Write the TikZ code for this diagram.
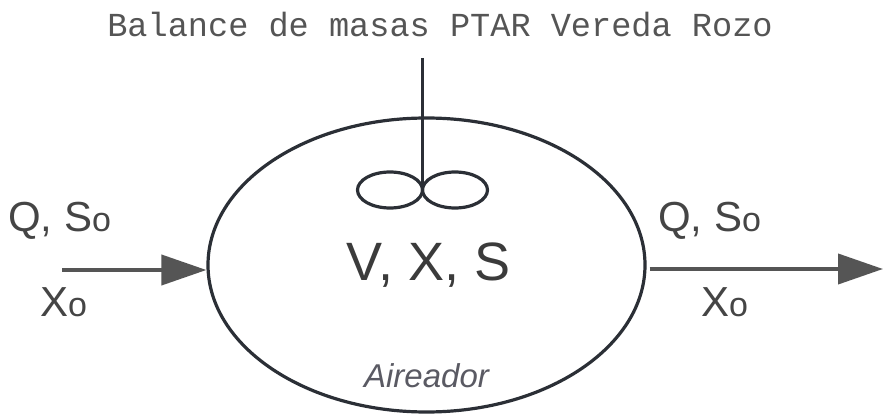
\documentclass[tikz,border=0pt]{standalone}
\usepackage{fontspec}
\setmainfont{Liberation Sans}
\newfontfamily\monof{Liberation Mono}
\usetikzlibrary{arrows.meta,shapes.geometric}
\definecolor{ink}{HTML}{2B2F36}
\definecolor{txt}{HTML}{454545}
\definecolor{arr}{HTML}{555555}
\definecolor{lbl}{HTML}{5A5A63}
\newcommand{\subo}{{\fontsize{34}{34}\selectfont o}}
\begin{document}
\begin{tikzpicture}[x=1pt,y=1pt,
  flow/.style={draw=arr, line width=4pt, -{Triangle[length=45pt,width=30pt]}},
  bigtxt/.style={inner sep=0pt, text=txt, font=\fontsize{42}{42}\selectfont, anchor=base west},
  blade/.style={draw=ink, line width=3.2pt}]
\useasboundingbox (0,0) rectangle (883,418);
\node[ellipse, draw=ink, line width=3.2pt, minimum width=437pt, minimum height=294pt, inner sep=0pt] (tank) at (426.5,153) {};
\node[inner sep=0pt, anchor=base, text=txt!85!black, font=\fontsize{54}{54}\selectfont] (vxs) at (428.5,138) {V, X, S};
\node[inner sep=0pt, anchor=base, text=lbl, font=\fontsize{33}{33}\selectfont\itshape] (air) at (426.5,31) {Aireador};
\node[inner sep=0pt, anchor=base, text=arr, font=\monof\fontsize{33.6}{33.6}\selectfont] (title) at (440,381) {Balance de masas PTAR Vereda Rozo};
% mixer
\coordinate (shafttop) at (422.5,360);
\coordinate (hub) at (422.5,228);
\draw[blade] (shafttop) -- (hub);
\draw[blade] ([xshift=-32.5pt]hub) ellipse [x radius=32.5pt, y radius=18pt];
\draw[blade] ([xshift=32.5pt]hub) ellipse [x radius=32.5pt, y radius=18pt];
% flows
\coordinate (inS) at (62,148);
\coordinate (outE) at (883,149);
\draw[flow] (inS) -- (tank.west |- inS);
\draw[flow] ([xshift=3pt]tank.east |- outE) -- (outE);
% labels
\node[bigtxt] (qin) at (8,186) {Q, S\subo};
\node[bigtxt] (xin) at (40,102) {X\subo};
\node[bigtxt] (qout) at (658,186) {Q, S\subo};
\node[bigtxt] (xout) at (701,102) {X\subo};
\end{tikzpicture}
\end{document}
